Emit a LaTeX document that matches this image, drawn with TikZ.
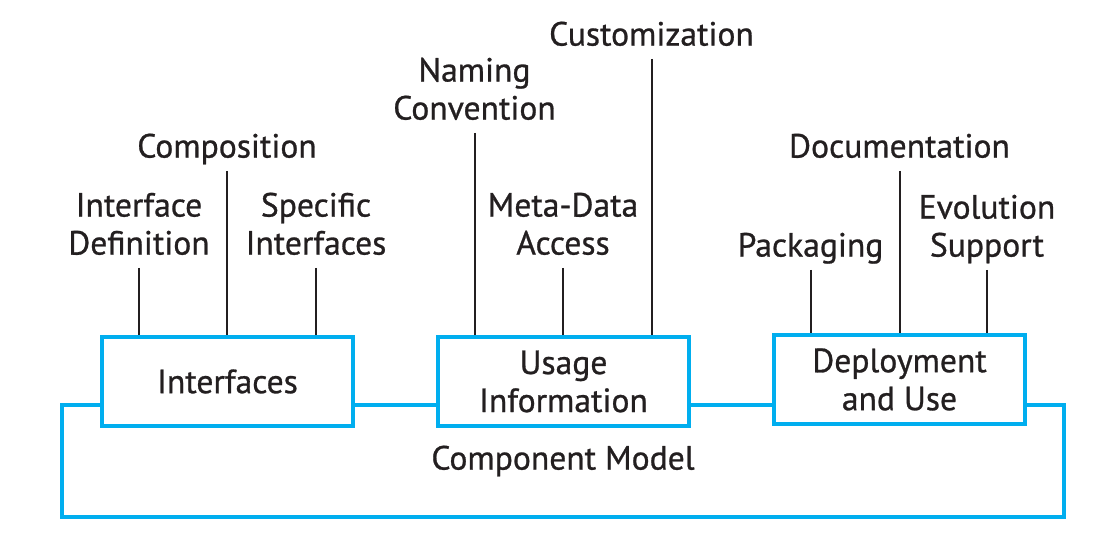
\documentclass[tikz,border=0pt]{standalone}
\usepackage{fontspec}
\setmainfont[FakeBold=0.8]{PT Sans}
\definecolor{cmblue}{HTML}{00AEEF}
\definecolor{cmtext}{HTML}{231F20}

\begin{document}
\begin{tikzpicture}[x=0.5pt,y=-0.5pt,
    box/.style={draw=cmblue,line width=2pt,fill=white,minimum width=125.5pt,
        minimum height=44.5pt,inner sep=0pt,align=center,text=cmtext,
        font=\fontsize{16.8}{19}\selectfont},
    lbl/.style={align=center,anchor=south,text depth=0pt,inner sep=0pt,
        text=cmtext,font=\fontsize{16.8}{19}\selectfont},
    stem/.style={line width=1pt,cmtext}]
    \useasboundingbox (0,0) rectangle (1110,544);

    % component model frame and the three parts
    \node[box,fill=none,minimum width=501pt,minimum height=56pt] (model) at (563,461) {Component Model};
    \node[box] (intf) at (227.5,381.5) {Interfaces};
    \node[box] (usage) at (563.5,381.5) {Usage\\Information};
    \node[box] (depl) at (899.5,379.5) {Deployment\\and Use};

    % labels
    \node[lbl] (idef) at (139,255) {Interface\\Definition};
    \node[lbl] (comp) at (227,158) {Composition};
    \node[lbl] (spec) at (316,255) {Specific\\Interfaces};
    \node[lbl] (name) at (474.5,120) {Naming\\Convention};
    \node[lbl] (meta) at (563,255) {Meta-Data\\Access};
    \node[lbl] (cust) at (651.5,46) {Customization};
    \node[lbl] (pack) at (810.5,257) {Packaging};
    \node[lbl] (docu) at (899.5,158) {Documentation};
    \node[lbl] (evol) at (987,257) {Evolution\\Support};

    \foreach \l/\b in {idef/intf,comp/intf,spec/intf,name/usage,meta/usage,
                       cust/usage,pack/depl,docu/depl,evol/depl}{
        \draw[stem] ([yshift=-6.5pt]\l.south) -- (\l.south |- \b.north);
    }

\end{tikzpicture}
\end{document}
